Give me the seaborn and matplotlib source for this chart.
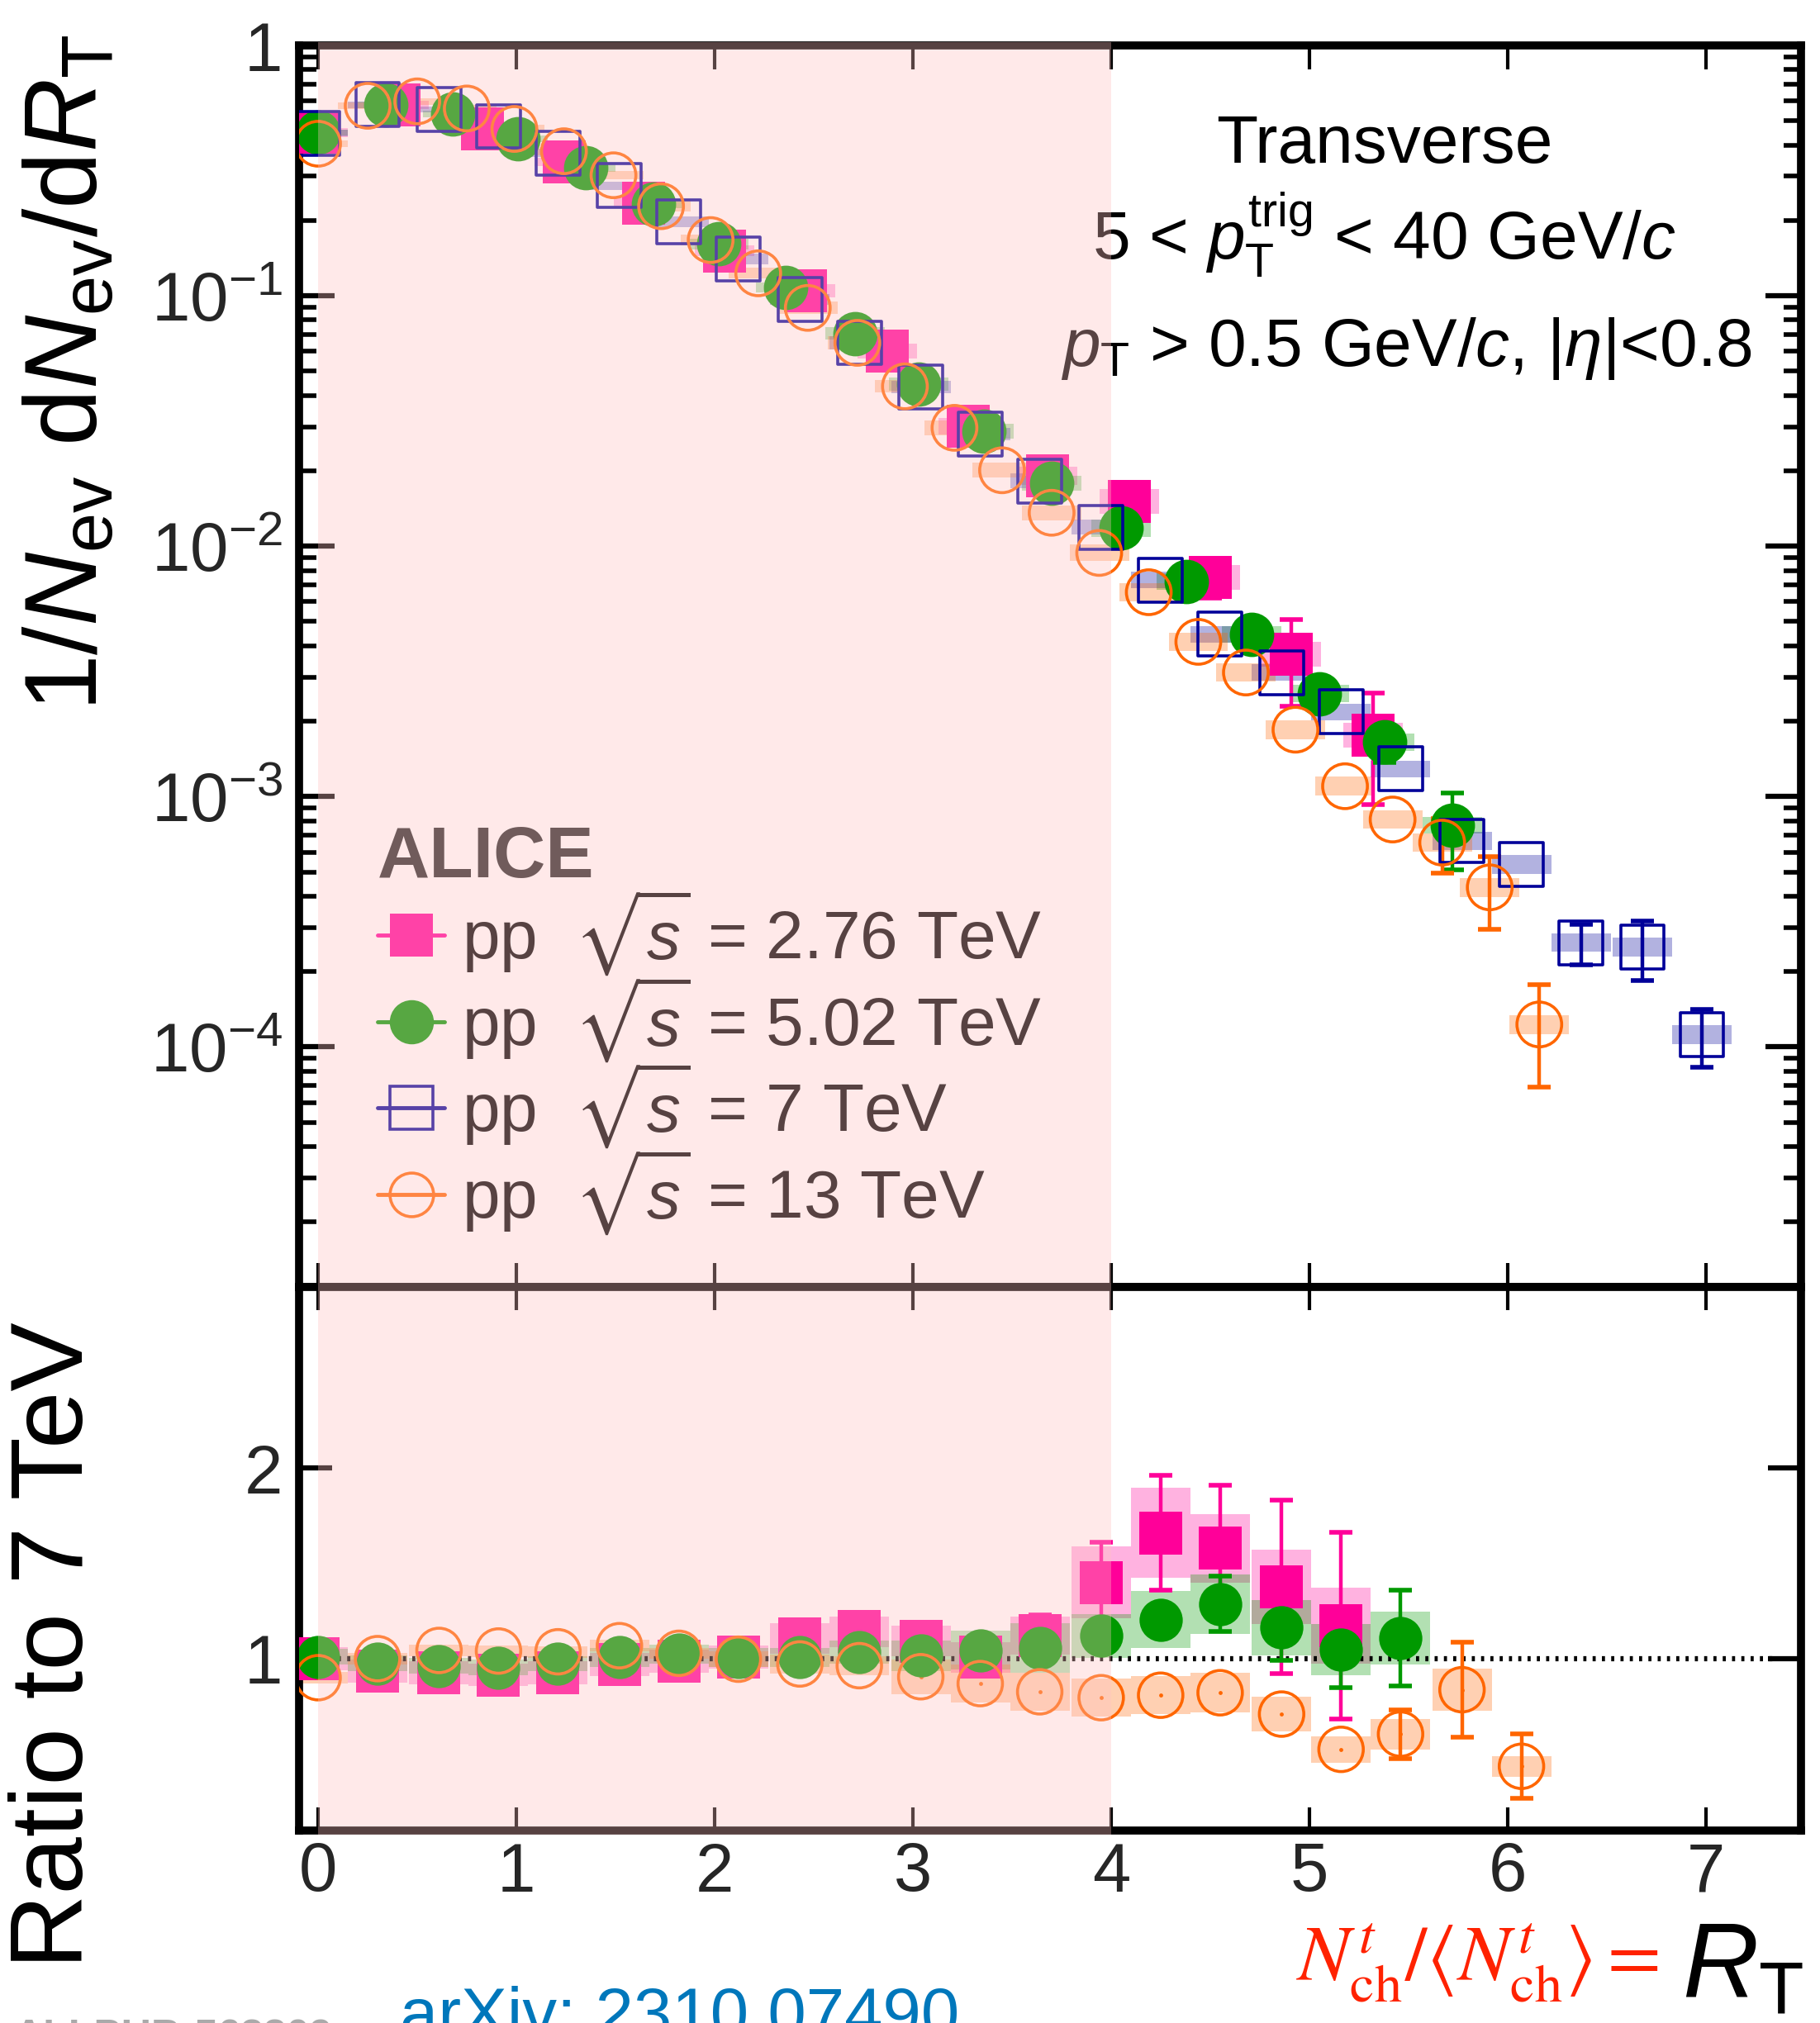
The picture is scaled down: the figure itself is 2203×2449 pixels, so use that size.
import numpy as np
import pandas as pd
import matplotlib
matplotlib.use("Agg")
import matplotlib.pyplot as plt
import seaborn as sns
from matplotlib.lines import Line2D
from matplotlib.patches import Rectangle
from matplotlib.ticker import FixedLocator, FixedFormatter, LogLocator, NullFormatter, NullLocator

# ---------------- data ----------------
# pp 2.76 TeV
x_276 = [0.00, 0.41, 0.83, 1.24, 1.64, 2.05, 2.46, 2.87, 3.28, 3.68, 4.09, 4.50, 4.91, 5.32]
y_276 = [0.449, 0.58, 0.464, 0.343, 0.235, 0.151, 0.1047, 0.0602, 0.0301, 0.0191, 0.0151, 0.0075, 0.0037, 0.00176]
stat_276 = [0, 0, 0, 0, 0, 0, 0, 0, 0, 0, 0, 0.0013, 0.0014, 0.00083]
sys_276 = [0.04, 0.04, 0.04, 0.04, 0.05, 0.05, 0.06, 0.07, 0.08, 0.09, 0.12, 0.12, 0.12, 0.12]

# pp 5.02 TeV
x_502 = [0.00, 0.34, 0.68, 1.01, 1.35, 1.69, 2.02, 2.36, 2.71, 3.03, 3.36, 3.70, 4.05, 4.38, 4.71, 5.05, 5.38, 5.72]
y_502 = [0.449, 0.579, 0.532, 0.424, 0.325, 0.232, 0.161, 0.108, 0.0707, 0.0444, 0.0288, 0.0178, 0.0118, 0.00722,
         0.00445, 0.00258, 0.00165, 0.00077]
stat_502 = [0, 0, 0, 0, 0, 0, 0, 0, 0, 0, 0, 0, 0, 0, 0, 0, 0.00028, 0.00026]
sys_502 = [0.03, 0.03, 0.03, 0.03, 0.04, 0.04, 0.05, 0.05, 0.06, 0.06, 0.07, 0.07, 0.08, 0.08, 0.08, 0.08, 0.08, 0.08]

# pp 7 TeV
x_7 = [0.00, 0.30, 0.61, 0.91, 1.21, 1.52, 1.82, 2.12, 2.43, 2.73, 3.04, 3.34, 3.64, 3.95, 4.25, 4.55, 4.86,
       5.16, 5.46, 5.77, 6.07, 6.37, 6.68, 6.98]
y_7 = [0.446, 0.579, 0.555, 0.475, 0.372, 0.275, 0.197, 0.140, 0.097, 0.0649, 0.0432, 0.028, 0.0182, 0.0119,
       0.00733, 0.00445, 0.00313, 0.00218, 0.00129, 0.000665, 0.000535, 0.000261, 0.000251, 0.000112]
stat_7 = [0] * 21 + [0.000048, 0.000067, 0.000029]
sys_7 = [0.03, 0.03, 0.03, 0.03, 0.04, 0.04, 0.05, 0.05, 0.05, 0.06, 0.06, 0.06, 0.07, 0.07, 0.08, 0.08, 0.08,
         0.08, 0.08, 0.09, 0.09, 0.09, 0.09, 0.09]

# pp 13 TeV
x_13 = [0.00, 0.25, 0.50, 0.75, 0.99, 1.24, 1.49, 1.73, 1.98, 2.22, 2.47, 2.72, 2.96, 3.21, 3.45, 3.70, 3.94,
        4.19, 4.44, 4.68, 4.93, 5.18, 5.42, 5.67, 5.91, 6.16]
y_13 = [0.405, 0.574, 0.598, 0.56, 0.464, 0.378, 0.303, 0.228, 0.167, 0.123, 0.0895, 0.0649, 0.0435, 0.0297,
        0.0201, 0.0136, 0.0094, 0.00655, 0.00415, 0.00313, 0.00185, 0.0011, 0.00081, 0.000655, 0.000434, 0.000123]
stat_13 = [0] * 23 + [0.00016, 0.00014, 0.000054]
sys_13 = [0.03, 0.03, 0.03, 0.03, 0.04, 0.04, 0.04, 0.05, 0.05, 0.05, 0.06, 0.06, 0.06, 0.07, 0.07, 0.07, 0.08,
          0.09, 0.09, 0.09, 0.09, 0.09, 0.09, 0.09, 0.09, 0.09]

# ratios to 7 TeV (at the 7 TeV bin centres)
r_276 = [1.00, 0.935, 0.926, 0.915, 0.927, 0.968, 0.988, 1.009, 1.105, 1.141, 1.091, 1.007, 1.12, 1.40, 1.66,
         1.58, 1.375, 1.173]
r_276_stat = [0] * 12 + [0.11, 0.21, 0.30, 0.33, 0.455, 0.49]
r_276_sys = [0.06, 0.06, 0.06, 0.06, 0.06, 0.06, 0.06, 0.06, 0.08, 0.08, 0.08, 0.08, 0.10, 0.19, 0.235, 0.18,
             0.195, 0.20]

r_502 = [1.01, 0.975, 0.962, 0.954, 0.973, 1.007, 1.022, 1.007, 1.007, 1.035, 1.016, 1.045, 1.055, 1.12, 1.204,
         1.286, 1.163, 1.046, 1.108]
r_502_stat = [0] * 15 + [0.145, 0.17, 0.20, 0.25]
r_502_sys = [0.04, 0.04, 0.04, 0.04, 0.04, 0.05, 0.05, 0.05, 0.05, 0.06, 0.08, 0.10, 0.13, 0.115, 0.15, 0.155,
             0.145, 0.135, 0.14]

r_13 = [0.90, 1.0, 1.043, 1.04, 1.036, 1.068, 1.028, 0.997, 0.972, 0.963, 0.905, 0.869, 0.826, 0.795, 0.808,
        0.821, 0.709, 0.524, 0.604, 0.837, 0.435]
r_13_stat = [0] * 18 + [0.127, 0.25, 0.17]
r_13_sys = [0.03, 0.03, 0.03, 0.03, 0.03, 0.03, 0.03, 0.04, 0.05, 0.05, 0.09, 0.10, 0.10, 0.10, 0.10, 0.105,
            0.09, 0.07, 0.08, 0.11, 0.055]

labels = [r"pp  $\sqrt{s}$ = 2.76 TeV", r"pp  $\sqrt{s}$ = 5.02 TeV",
          r"pp  $\sqrt{s}$ = 7 TeV", r"pp  $\sqrt{s}$ = 13 TeV"]
ytick_vals_top = [1e-4, 1e-3, 1e-2, 1e-1, 1]
ytick_labels_top = [r"$10^{-4}$", r"$10^{-3}$", r"$10^{-2}$", r"$10^{-1}$", "1"]
ytick_vals_bot = [1, 2]
ytick_labels_bot = ["1", "2"]
xtick_vals = [0, 1, 2, 3, 4, 5, 6, 7]

# ---------------- style ----------------
sns.set_theme(style="ticks")
plt.rcParams["font.family"] = ["Liberation Sans", "DejaVu Sans"]
plt.rcParams["mathtext.fontset"] = "custom"
plt.rcParams["mathtext.rm"] = "Liberation Sans"
plt.rcParams["mathtext.it"] = "Liberation Sans:italic"
plt.rcParams["mathtext.bf"] = "Liberation Sans:bold"
plt.rcParams["mathtext.fallback"] = "stixsans"
plt.rcParams["axes.unicode_minus"] = True

C276 = "#FF0099"
C502 = "#009900"
C7 = "#000099"
C13 = "#FF6600"

W, H = 2203, 2449
fig = plt.figure(figsize=(W / 100, H / 100), dpi=100)
fig.patch.set_facecolor("white")

left_px, right_px = 362, 2180
top_px, mid_px, bot_px = 55, 1558, 2216
ax1 = fig.add_axes([left_px / W, 1 - mid_px / H, (right_px - left_px) / W, (mid_px - top_px) / H])
ax2 = fig.add_axes([left_px / W, 1 - bot_px / H, (right_px - left_px) / W, (bot_px - mid_px) / H])

for ax in (ax1, ax2):
    ax.set_facecolor("white")
    for sp in ax.spines.values():
        sp.set_color("black")
        sp.set_linewidth(7)
    ax.set_xlim(-0.096, 7.48)

BOXW = 0.30
MS = 1450  # marker area (pt^2)


def sys_boxes_log(ax, x, y, rel, color, z):
    x = np.asarray(x); y = np.asarray(y); rel = np.asarray(rel)
    lo = y / (1 + rel)
    hi = y * (1 + rel)
    ax.bar(x, hi - lo, bottom=lo, width=BOXW, color=color, alpha=0.3, linewidth=0, zorder=z)


def sys_boxes_lin(ax, x, y, s, color, z):
    x = np.asarray(x); y = np.asarray(y); s = np.asarray(s)
    ax.bar(x, 2 * s, bottom=y - s, width=BOXW, color=color, alpha=0.3, linewidth=0, zorder=z)


def stat_bars(ax, x, y, e, color, z):
    x = np.asarray(x); y = np.asarray(y); e = np.asarray(e)
    m = e > 0
    if m.any():
        ax.errorbar(x[m], y[m], yerr=e[m], fmt="none", ecolor=color, elinewidth=3.2,
                    capsize=10, capthick=4, zorder=z)


def points(ax, x, y, color, marker, filled, z, s=MS):
    df = pd.DataFrame({"x": x, "y": y})
    if filled:
        sns.scatterplot(data=df, x="x", y="y", ax=ax, marker=marker, s=s, color=color,
                        edgecolor=color, linewidth=0, zorder=z, legend=False)
    else:
        sns.scatterplot(data=df, x="x", y="y", ax=ax, marker=marker, s=s, color=color,
                        facecolors="none", edgecolor=color, linewidth=2.6, zorder=z, legend=False)


# ---------------- top panel ----------------
ax1.set_yscale("log")
ax1.set_ylim(1.1e-5, 1)

sys_boxes_log(ax1, x_276, y_276, sys_276, C276, 2.0)
sys_boxes_log(ax1, x_502, y_502, sys_502, C502, 2.1)
sys_boxes_log(ax1, x_7, y_7, sys_7, C7, 2.2)
sys_boxes_log(ax1, x_13, y_13, sys_13, C13, 2.3)

stat_bars(ax1, x_276, y_276, stat_276, C276, 3.0)
stat_bars(ax1, x_502, y_502, stat_502, C502, 3.0)
stat_bars(ax1, x_7, y_7, stat_7, C7, 3.0)
stat_bars(ax1, x_13, y_13, stat_13, C13, 3.0)

points(ax1, x_276, y_276, C276, "s", True, 4.0)
points(ax1, x_502, y_502, C502, "o", True, 4.1, s=1500)
points(ax1, x_7, y_7, C7, "s", False, 4.2)
points(ax1, x_13, y_13, C13, "o", False, 4.3, s=1520)

ax1.set_xlabel("")
ax1.set_ylabel("")
ax1.yaxis.set_major_locator(FixedLocator(ytick_vals_top))
ax1.yaxis.set_major_formatter(FixedFormatter(ytick_labels_top))
ax1.yaxis.set_minor_locator(LogLocator(base=10, subs=np.arange(2, 10), numticks=20))
ax1.yaxis.set_minor_formatter(NullFormatter())
ax1.xaxis.set_major_locator(FixedLocator(xtick_vals))
ax1.xaxis.set_minor_locator(NullLocator())
ax1.tick_params(axis="x", which="major", direction="in", top=True, bottom=True, length=21, width=3,
                labelbottom=False, color="black")
ax1.tick_params(axis="y", which="major", direction="in", left=True, right=True, length=31, width=4.5,
                labelsize=60, pad=14, color="black")
ax1.tick_params(axis="y", which="minor", direction="in", left=True, right=True, length=15, width=4,
                color="black")

# annotations
ax1.text(0.7225, 0.9055, "Transverse", transform=ax1.transAxes, ha="center", va="baseline",
         fontsize=59, color="black", zorder=8)
ax1.text(0.7225, 0.827, r"5 < $p_{\rm T}^{\rm trig}$ < 40 GeV/$c$", transform=ax1.transAxes,
         ha="center", va="baseline", fontsize=59, color="black", zorder=8)
ax1.text(0.9676, 0.7418, r"$p_{\rm T}$ > 0.5 GeV/$c$, $|\eta|$<0.8", transform=ax1.transAxes,
         ha="right", va="baseline", fontsize=59, color="black", zorder=8)

handles = [
    Line2D([0], [0], color=C276, lw=3.5, marker="s", markersize=38, markerfacecolor=C276,
           markeredgecolor=C276, markeredgewidth=0),
    Line2D([0], [0], color=C502, lw=3.5, marker="o", markersize=38.5, markerfacecolor=C502,
           markeredgecolor=C502, markeredgewidth=0),
    Line2D([0], [0], color=C7, lw=3.5, marker="s", markersize=37, markerfacecolor="none",
           markeredgecolor=C7, markeredgewidth=2.6),
    Line2D([0], [0], color=C13, lw=3.5, marker="o", markersize=38, markerfacecolor="none",
           markeredgecolor=C13, markeredgewidth=2.6),
]
leg = ax1.legend(handles, labels, loc="upper left", bbox_to_anchor=(0.052, 0.372), frameon=False,
                 fontsize=59, title="ALICE", title_fontproperties={"weight": "bold", "size": 63},
                 alignment="left", handlelength=1.0, handletextpad=0.25, labelspacing=-0.06,
                 borderpad=0.0, borderaxespad=0.0)
leg.set_zorder(9)
for t in leg.get_texts():
    t.set_color("black")

# ---------------- bottom panel ----------------
ax2.set_ylim(0.098, 2.95)
x_r = np.asarray(x_7)
n276, n502, n13 = len(r_276), len(r_502), len(r_13)

sys_boxes_lin(ax2, x_r[:n276], r_276, r_276_sys, C276, 2.0)
sys_boxes_lin(ax2, x_r[:n502], r_502, r_502_sys, C502, 2.1)
sys_boxes_lin(ax2, x_r[:n13], r_13, r_13_sys, C13, 2.3)

ax2.hlines(1.0, 0.1, 7.35, colors="black", linestyles=(0, (0.6, 1.2)), linewidth=4.5, zorder=2.5)

stat_bars(ax2, x_r[:n276], r_276, r_276_stat, C276, 3.0)
stat_bars(ax2, x_r[:n502], r_502, r_502_stat, C502, 3.0)
stat_bars(ax2, x_r[:n13], r_13, r_13_stat, C13, 3.0)

points(ax2, x_r[:n276], r_276, C276, "s", True, 4.0, s=1400)
points(ax2, x_r[:n13], r_13, C13, "o", True, 4.05, s=12)
points(ax2, x_r[:n502], r_502, C502, "o", True, 4.1, s=1420)
points(ax2, x_r[:n13], r_13, C13, "o", False, 4.3, s=1500)

ax2.set_xlabel("")
ax2.set_ylabel("")
ax2.yaxis.set_major_locator(FixedLocator(ytick_vals_bot))
ax2.yaxis.set_major_formatter(FixedFormatter(ytick_labels_bot))
ax2.yaxis.set_minor_locator(NullLocator())
ax2.xaxis.set_major_locator(FixedLocator(xtick_vals))
ax2.xaxis.set_major_formatter(FixedFormatter([str(v) for v in xtick_vals]))
ax2.xaxis.set_minor_locator(NullLocator())
ax2.tick_params(axis="x", which="major", direction="in", top=True, bottom=True, length=20, width=3,
                labelsize=60, pad=9, color="black")
ax2.tick_params(axis="y", which="major", direction="in", left=True, right=True, length=29, width=4.5,
                labelsize=60, pad=14, color="black")

# ---------------- axis titles & extra text ----------------
fig.text(0.039, 0.983, r"$1/N_{\mathrm{ev}}\ \mathrm{d}N_{\mathrm{ev}}/\mathrm{d}R_{\mathrm{T}}$",
         rotation=90, ha="center", va="top", fontsize=89, color="black")
fig.text(0.031, 0.1866, "Ratio to 7 TeV", rotation=90, ha="center", va="center", fontsize=90,
         color="black")
fig.text(0.9115, 0.0208, r"$N^{t}_{\rm ch}/\langle N^{t}_{\rm ch}\rangle =$", color="#FF2200",
         fontsize=68, ha="right", va="baseline", math_fontfamily="stix")
fig.text(0.924, 0.013, r"$R_{\rm T}$", fontsize=92, ha="left", va="baseline", color="black")
fig.text(0.2197, -0.0065, "arXiv: 2310.07490", color="#0077BB", fontsize=60, ha="left", va="baseline")
fig.text(0.0077, -0.0125, "ALI-PUB-563309", color="#AAAAAA", fontsize=36, fontweight="bold",
         ha="left", va="baseline")

# ---------------- shaded R_T < 4 region, drawn over everything ----------------
inv = fig.transFigure.inverted()
fx0 = inv.transform(ax1.transData.transform((0.0, 0.5)))[0]
fx4 = inv.transform(ax1.transData.transform((4.0, 0.5)))[0]
fy_bot = 1 - (bot_px + 5) / H
fy_top = 1 - (top_px - 4) / H
shade = Rectangle((fx0, fy_bot), fx4 - fx0, fy_top - fy_bot, transform=fig.transFigure,
                  facecolor=(1.0, 0.76, 0.76), alpha=0.345, linewidth=0, zorder=100)
fig.add_artist(shade)

fig.savefig("out.png", dpi=100)
